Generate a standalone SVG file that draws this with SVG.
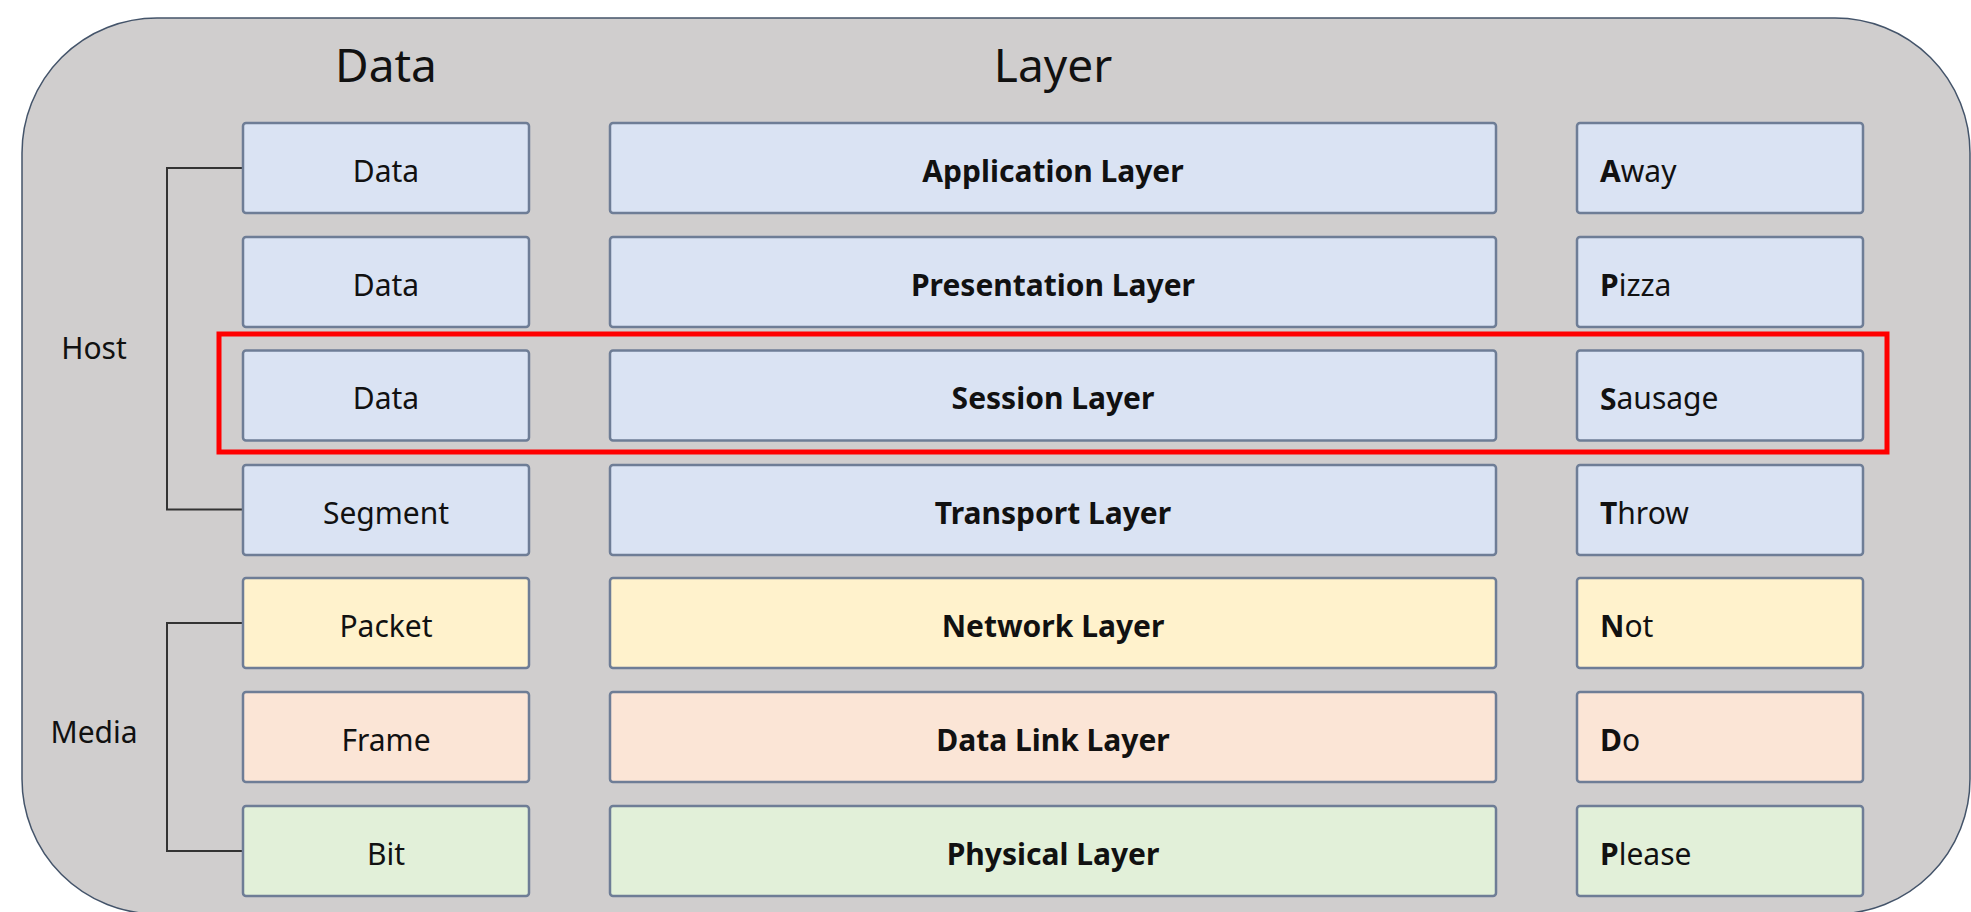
<svg xmlns="http://www.w3.org/2000/svg" width="1971" height="912" viewBox="0 0 1971 912">
<style>
.bg{fill:#d0cece;stroke:#44546a;stroke-width:1.5}
.box{stroke:#6e7d96;stroke-width:2.5}
.blue{fill:#dae3f3}.yellow{fill:#fff2cc}.orange{fill:#fbe5d6}.green{fill:#e2f0d9}
text{font-family:"Noto Sans","Open Sans","Liberation Sans",sans-serif;fill:#111}
.t{font-size:30px;text-anchor:middle;dominant-baseline:central}
.b{font-weight:bold}
.r{font-size:30px;dominant-baseline:central}
.h{font-size:46px;text-anchor:middle}
.side{font-size:30px;text-anchor:middle;dominant-baseline:central}
.conn{fill:none;stroke:#333;stroke-width:2}
.hl{fill:none;stroke:#ff0000;stroke-width:5}
</style>
<rect class="bg" x="22" y="18" width="1948" height="896" rx="135" ry="135"/>
<text class="h" x="386" y="82">Data</text>
<text class="h" x="1053" y="82">Layer</text>
<text class="side" x="94" y="347">Host</text>
<text class="side" x="94" y="731">Media</text>
<g id="connectors">
<path class="conn" d="M243 168 H167 V509.5 H243"/>
<path class="conn" d="M243 623 H167 V851 H243"/>
</g>
<g id="row1">
<rect class="box blue" x="243" y="123" width="286" height="90" rx="3"/><text class="t" x="386" y="170">Data</text>
<rect class="box blue" x="610" y="123" width="886" height="90" rx="3"/><text class="t b" x="1053" y="170">Application Layer</text>
<rect class="box blue" x="1577" y="123" width="286" height="90" rx="3"/><text class="r" x="1600" y="170"><tspan class="b">A</tspan>way</text>
</g>
<g id="row2">
<rect class="box blue" x="243" y="237" width="286" height="90" rx="3"/><text class="t" x="386" y="284">Data</text>
<rect class="box blue" x="610" y="237" width="886" height="90" rx="3"/><text class="t b" x="1053" y="284">Presentation Layer</text>
<rect class="box blue" x="1577" y="237" width="286" height="90" rx="3"/><text class="r" x="1600" y="284"><tspan class="b">P</tspan>izza</text>
</g>
<g id="row3">
<rect class="box blue" x="243" y="350.5" width="286" height="90" rx="3"/><text class="t" x="386" y="397.5">Data</text>
<rect class="box blue" x="610" y="350.5" width="886" height="90" rx="3"/><text class="t b" x="1053" y="397.5">Session Layer</text>
<rect class="box blue" x="1577" y="350.5" width="286" height="90" rx="3"/><text class="r" x="1600" y="397.5"><tspan class="b">S</tspan>ausage</text>
</g>
<g id="row4">
<rect class="box blue" x="243" y="465" width="286" height="90" rx="3"/><text class="t" x="386" y="512">Segment</text>
<rect class="box blue" x="610" y="465" width="886" height="90" rx="3"/><text class="t b" x="1053" y="512">Transport Layer</text>
<rect class="box blue" x="1577" y="465" width="286" height="90" rx="3"/><text class="r" x="1600" y="512"><tspan class="b">T</tspan>hrow</text>
</g>
<g id="row5">
<rect class="box yellow" x="243" y="578" width="286" height="90" rx="3"/><text class="t" x="386" y="625">Packet</text>
<rect class="box yellow" x="610" y="578" width="886" height="90" rx="3"/><text class="t b" x="1053" y="625">Network Layer</text>
<rect class="box yellow" x="1577" y="578" width="286" height="90" rx="3"/><text class="r" x="1600" y="625"><tspan class="b">N</tspan>ot</text>
</g>
<g id="row6">
<rect class="box orange" x="243" y="692" width="286" height="90" rx="3"/><text class="t" x="386" y="739">Frame</text>
<rect class="box orange" x="610" y="692" width="886" height="90" rx="3"/><text class="t b" x="1053" y="739">Data Link Layer</text>
<rect class="box orange" x="1577" y="692" width="286" height="90" rx="3"/><text class="r" x="1600" y="739"><tspan class="b">D</tspan>o</text>
</g>
<g id="row7">
<rect class="box green" x="243" y="806" width="286" height="90" rx="3"/><text class="t" x="386" y="853">Bit</text>
<rect class="box green" x="610" y="806" width="886" height="90" rx="3"/><text class="t b" x="1053" y="853">Physical Layer</text>
<rect class="box green" x="1577" y="806" width="286" height="90" rx="3"/><text class="r" x="1600" y="853"><tspan class="b">P</tspan>lease</text>
</g>
<g id="highlight">
<rect class="hl" x="219" y="334" width="1668" height="118"/>
</g>
</svg>
